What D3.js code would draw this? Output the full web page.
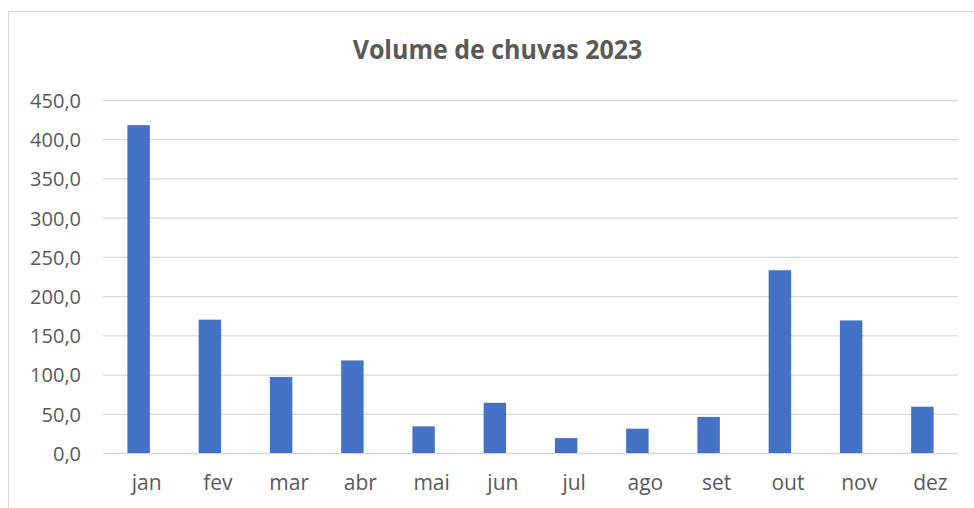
<!DOCTYPE html>
<html>
<head>
<meta charset="utf-8">
<script src="https://cdn.jsdelivr.net/npm/d3@7"></script>
<style>
  html, body { margin: 0; padding: 0; background: #fff; }
  svg { display: block; }
</style>
</head>
<body>
<svg id="chart" width="974" height="508"></svg>
<script>
// Monthly rainfall, 2023
const months = ["jan", "fev", "mar", "abr", "mai", "jun", "jul", "ago", "set", "out", "nov", "dez"];
const rainfall = [418, 170, 97, 118, 34, 64, 19, 31, 46, 233, 169, 59];
const yTicks = [0, 50, 100, 150, 200, 250, 300, 350, 400, 450];
const title = "Volume de chuvas 2023";

const svg = d3.select("#chart");
const W = 974, H = 508;
const plot = { left: 103, right: 958, top: 100, bottom: 453 };
const font = "'Open Sans', 'Noto Sans', sans-serif";
const textColor = "#595959";

// chart frame
svg.append("rect")
  .attr("x", 8.5).attr("y", 11.5)
  .attr("width", W).attr("height", H)
  .attr("fill", "#fff")
  .attr("stroke", "#d9d9d9").attr("stroke-width", 1);

const x = d3.scaleBand()
  .domain(months)
  .range([plot.left, plot.right])
  .paddingInner(0.685).paddingOuter(0.3425);

const y = d3.scaleLinear()
  .domain([0, 450])
  .range([plot.bottom, plot.top]);

// gridlines
const grid = d3.axisLeft(y)
  .tickValues(yTicks)
  .tickSize(-(plot.right - plot.left))
  .tickFormat("");
svg.append("g")
  .attr("transform", `translate(${plot.left},0)`)
  .call(grid)
  .call(g => g.select(".domain").remove())
  .call(g => g.selectAll("line").attr("stroke", "#d9d9d9").attr("stroke-width", 1.3));

// y-axis labels
const fmt = v => d3.format(".1f")(v).replace(".", ",");
svg.append("g")
  .attr("transform", `translate(${plot.left - 22},1)`)
  .call(d3.axisLeft(y).tickValues(yTicks).tickSize(0).tickPadding(0).tickFormat(fmt))
  .call(g => g.select(".domain").remove())
  .call(g => g.selectAll("text")
    .attr("fill", textColor)
    .style("font-family", font)
    .style("font-size", "20px"));

// bars
svg.append("g")
  .selectAll("rect")
  .data(months.map((m, i) => ({ m, v: rainfall[i] })))
  .join("rect")
  .attr("x", d => x(d.m))
  .attr("width", x.bandwidth())
  .attr("y", d => y(d.v))
  .attr("height", d => y(0) - y(d.v))
  .attr("fill", "#4472c4");

// x-axis labels
svg.append("g")
  .attr("transform", `translate(8,${plot.bottom + 22})`)
  .call(d3.axisBottom(x).tickSize(0).tickPadding(0))
  .call(g => g.select(".domain").remove())
  .call(g => g.selectAll("text")
    .attr("fill", textColor)
    .style("font-family", font)
    .style("font-size", "21px"));

// title
svg.append("text")
  .attr("transform", "translate(497.5,59.3) scale(1,1.1)")
  .attr("text-anchor", "middle")
  .attr("fill", textColor)
  .style("font-family", font)
  .style("font-weight", "bold")
  .style("font-size", "25px")
  .text(title);
</script>
</body>
</html>
